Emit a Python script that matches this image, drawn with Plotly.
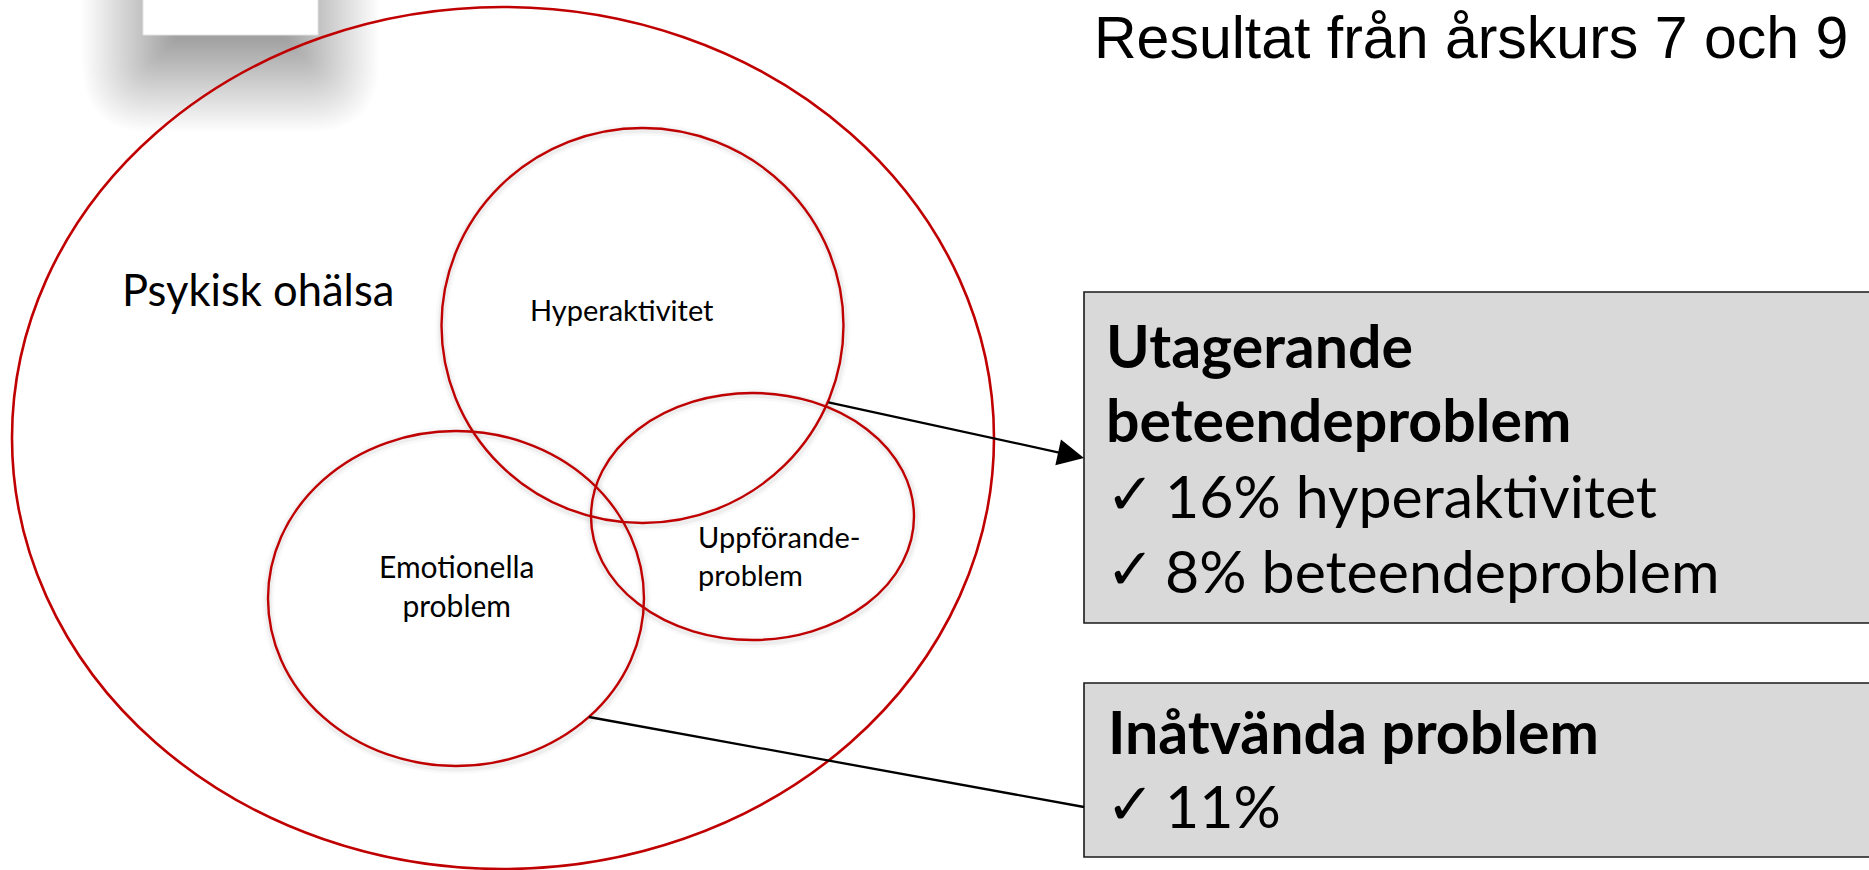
import plotly.graph_objects as go

W, H = 1869, 870

# ---- content ----
title_text = "Resultat från årskurs 7 och 9"
outer_label = "Psykisk ohälsa"
circle_labels = ["Hyperaktivitet", "Emotionella<br>problem", "Uppförande-<br>problem"]
box1_heading = ["Utagerande", "beteendeproblem"]
box1_pcts = [16, 8]
box1_items = ["hyperaktivitet", "beteendeproblem"]
box2_heading = ["Inåtvända problem"]
box2_pcts = [11]

RED = "#C00000"

# ---- geometry (layout) ----
outer = (503, 438, 491, 431)
inner = [(642.5, 325.5, 201, 197.5),   # Hyperaktivitet
         (456, 598.5, 188, 167.5),     # Emotionella
         (752.5, 516.5, 161.5, 123.5)] # Uppförande
box1 = (1084, 292, 1900, 623)
box2 = (1084, 683, 1900, 857)

shapes = []
annotations = []


def rrect(x0, y0, x1, y1, r):
    return (f"M {x0 + r},{y0} L {x1 - r},{y0} Q {x1},{y0} {x1},{y0 + r} "
            f"L {x1},{y1 - r} Q {x1},{y1} {x1 - r},{y1} L {x0 + r},{y1} "
            f"Q {x0},{y1} {x0},{y1 - r} L {x0},{y0 + r} Q {x0},{y0} {x0 + r},{y0} Z")


# logo card drop shadow (layered blur approximation)
card = (143, -10, 318, 35)
base = (152, -60, 309, 62)
ds = list(range(-22, 72, 2))
a = 0.33 / len(ds)
for d in ds:
    x0, y0, x1, y1 = base[0] - d, base[1] - d, base[2] + d, base[3] + d
    if x1 - x0 <= 4 or y1 - y0 <= 4:
        continue
    r = max(d, 0) * 0.9 + 6
    shapes.append(dict(type="path", xref="x", yref="y", path=rrect(x0, y0, x1, y1, r),
                       line=dict(width=0), fillcolor=f"rgba(0,0,0,{a:.4f})", layer="below"))
shapes.append(dict(type="rect", xref="x", yref="y", x0=card[0], x1=card[2], y0=card[1], y1=card[3],
                   line=dict(color="#e2e2e2", width=1), fillcolor="white", layer="below"))

# outer ellipse
cx, cy, rx, ry = outer
shapes.append(dict(type="circle", xref="x", yref="y", x0=cx - rx, x1=cx + rx, y0=cy - ry, y1=cy + ry,
                   line=dict(color=RED, width=2.6), fillcolor="rgba(0,0,0,0)"))
# inner ellipse shadows
for (cx, cy, rx, ry) in inner:
    for w, al in [(12, 0.025), (7, 0.045)]:
        shapes.append(dict(type="circle", xref="x", yref="y", x0=cx - rx, x1=cx + rx + 1,
                           y0=cy - ry + 1.5, y1=cy + ry + 2,
                           line=dict(color=f"rgba(0,0,0,{al})", width=w), fillcolor="rgba(0,0,0,0)"))
for (cx, cy, rx, ry) in inner:
    shapes.append(dict(type="circle", xref="x", yref="y", x0=cx - rx, x1=cx + rx, y0=cy - ry, y1=cy + ry,
                       line=dict(color=RED, width=2.4), fillcolor="rgba(0,0,0,0)"))

# boxes
for (x0, y0, x1, y1) in (box1, box2):
    shapes.append(dict(type="rect", xref="x", yref="y", x0=x0, x1=x1, y0=y0, y1=y1,
                       line=dict(color="#1a1a1a", width=1.6), fillcolor="#D9D9D9"))

# connector line to box 2
shapes.append(dict(type="line", xref="x", yref="y", x0=589, y0=717, x1=box2[0], y1=807,
                   line=dict(color="black", width=2.3)))

# arrow to box 1
annotations.append(dict(x=box1[0], y=458, ax=827, ay=402, xref="x", yref="y", axref="x", ayref="y",
                        text="", showarrow=True, arrowhead=2, arrowsize=2.3, arrowwidth=2.3,
                        arrowcolor="black", standoff=0))


def txt(s, x, baseline, size, family, xanchor="left", bold=False, k=0.36, align="left"):
    annotations.append(dict(text=(f"<b>{s}</b>" if bold else s), x=x, y=baseline - k * size,
                            xref="x", yref="y", xanchor=xanchor, yanchor="middle", showarrow=False,
                            align=align, font=dict(family=family, size=size, color="black")))


LATO = "Lato"
# title
txt(title_text, 1092, 57, 59, "Liberation Sans", k=0.33)
# outer label
txt(outer_label, 120, 305, 43.5, LATO)
# inner labels
txt(circle_labels[0], 622, 320, 29, LATO, xanchor="center")
annotations.append(dict(text=circle_labels[1], x=456, y=(577 + 615) / 2 - 0.36 * 30, xref="x", yref="y",
                        xanchor="center", yanchor="middle", showarrow=False, align="center",
                        font=dict(family=LATO, size=30, color="black")))
annotations.append(dict(text=circle_labels[2], x=696, y=(547 + 584) / 2 - 0.36 * 29, xref="x", yref="y",
                        xanchor="left", yanchor="middle", showarrow=False, align="left",
                        font=dict(family=LATO, size=29, color="black")))

# box 1
FS = 59
CHK = 58
txt(box1_heading[0], 1104, 367, FS, LATO, bold=True)
txt(box1_heading[1], 1104, 441, FS, LATO, bold=True)
for i, (p, item) in enumerate(zip(box1_pcts, box1_items)):
    b = [517, 592][i]
    txt("✓", 1104, b - 4, CHK, "DejaVu Sans", k=0.33)
    txt(f"{p}% {item}", 1163, b, FS, LATO)
# box 2
txt(box2_heading[0], 1106, 753, FS, LATO, bold=True)
txt("✓", 1104, 823, CHK, "DejaVu Sans", k=0.33)
txt(f"{box2_pcts[0]}%", 1163, 827, FS, LATO)

fig = go.Figure()
fig.update_layout(
    width=W, height=H, margin=dict(l=0, r=0, t=0, b=0),
    paper_bgcolor="white", plot_bgcolor="white",
    xaxis=dict(range=[0, W], visible=False, fixedrange=True),
    yaxis=dict(range=[H, 0], visible=False, fixedrange=True),
    shapes=shapes, annotations=annotations, showlegend=False,
)
fig.write_html("out.html", config={"displayModeBar": False},
               post_script="document.body.style.margin='0';document.body.style.overflow='hidden';")
